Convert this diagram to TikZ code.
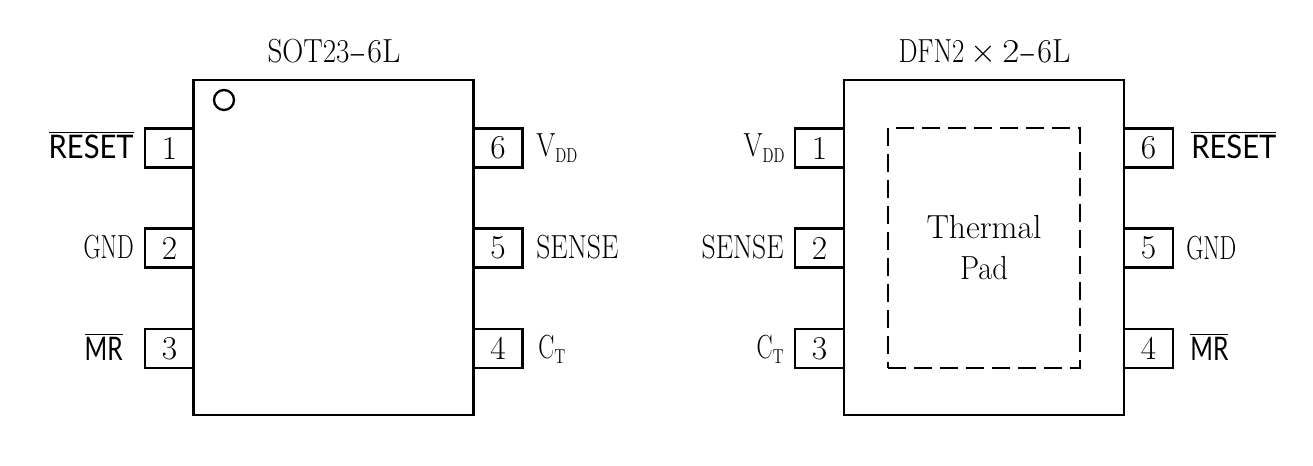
\documentclass[tikz,border=0pt]{standalone}
\usepackage{fontspec}
\setsansfont{Lato}
\usepackage{graphicx}
\usetikzlibrary{shapes}

\newcommand{\fitname}[2]{\resizebox{#1}{\height}{#2}}
\newcommand{\longhy}{\hspace{0.02cm}\fitname{0.32cm}{-}\hspace{0.02cm}}
\newcommand{\pinsub}[4]{\fitname{#3}{#1}\raisebox{-0.12cm}{\fontsize{11.5}{12}\selectfont\fitname{#4}{#2}}}
\newcommand{\pinbar}[2]{\fitname{#1}{\sffamily\fontsize{18.5}{19}\selectfont$\overline{\mbox{#2}}$}}

\tikzset{
  body/.style={shape=rectangle,draw=black,line width=1.3pt,inner sep=0pt,minimum width=5.6cm,minimum height=6.7cm},
  pinbox/.style={shape=rectangle,draw=black,line width=1.3pt,inner sep=0pt,minimum width=0.98cm,minimum height=0.78cm,font=\fontsize{19}{22}\selectfont},
  title/.style={anchor=base,inner sep=0pt,font=\fontsize{19}{22}\selectfont},
  pinname/.style={inner sep=0pt,font=\fontsize{19}{22}\selectfont},
}

\begin{document}
\begin{tikzpicture}[x=0.02cm,y=-0.02cm]
\useasboundingbox (0,0) rectangle (1313,466);
\node[body] (soic) at (333.5,247.5) {};
\node[body] (dfn) at (984,247.5) {};
\node[shape=circle,draw=black,line width=1.3pt,inner sep=0pt,minimum size=0.4cm] (dot) at (224,100) {};
\node[draw=black,dashed,dash pattern=on 0.36cm off 0.16cm,line width=1.3pt,inner sep=0pt,minimum width=3.84cm,minimum height=4.8cm] (pad) at (984,248) {};

\node[title] (title1) at (334,63) {\fitname{1.64cm}{SOT23}\longhy\fitname{0.66cm}{6L}};
\node[title] (title2) at (984.5,63) {\fitname{1.32cm}{DFN2}\hspace{0.12cm}\scalebox{1.1}{$\times$}\hspace{0.12cm}\fitname{0.34cm}{2}\longhy\fitname{0.66cm}{6L}};
\node[title] (pad1) at (984,238) {\fitname{2.3cm}{Thermal}};
\node[title] (pad2) at (984,279) {\fitname{0.96cm}{Pad}};

\node[pinbox] (a1) at (169.5,148) {1};
\node[pinbox] (a2) at (169.5,248) {2};
\node[pinbox] (a3) at (169.5,348.5) {3};
\node[pinbox] (a4) at (498,348.5) {4};
\node[pinbox] (a5) at (498,248) {5};
\node[pinbox] (a6) at (498,148) {6};

\node[pinbox] (b1) at (819.5,148) {1};
\node[pinbox] (b2) at (819.5,248) {2};
\node[pinbox] (b3) at (819.5,348.5) {3};
\node[pinbox] (b4) at (1148.5,348.5) {4};
\node[pinbox] (b5) at (1148.5,248) {5};
\node[pinbox] (b6) at (1148.5,148) {6};

\node[pinname,anchor=base east] (an1) at (134,158) {\pinbar{1.7cm}{RESET}};
\node[pinname,anchor=base east] (an2) at (134,258) {\fitname{1cm}{GND}};
\node[pinname,anchor=base east] (an3) at (123,360) {\pinbar{0.76cm}{MR}};
\node[pinname,anchor=base west] (an4) at (538,358) {\pinsub{C}{T}{0.32cm}{0.22cm}};
\node[pinname,anchor=base west] (an5) at (536,258) {\fitname{1.64cm}{SENSE}};
\node[pinname,anchor=base west] (an6) at (536,157) {\pinsub{V}{DD}{0.38cm}{0.44cm}};

\node[pinname,anchor=base east] (bn1) at (785,157) {\pinsub{V}{DD}{0.38cm}{0.44cm}};
\node[pinname,anchor=base east] (bn2) at (784,258) {\fitname{1.64cm}{SENSE}};
\node[pinname,anchor=base east] (bn3) at (784,358) {\pinsub{C}{T}{0.32cm}{0.22cm}};
\node[pinname,anchor=base west] (bn4) at (1190,360) {\pinbar{0.76cm}{MR}};
\node[pinname,anchor=base west] (bn5) at (1186,259) {\fitname{1cm}{GND}};
\node[pinname,anchor=base west] (bn6) at (1191,158) {\pinbar{1.7cm}{RESET}};
\end{tikzpicture}
\end{document}
